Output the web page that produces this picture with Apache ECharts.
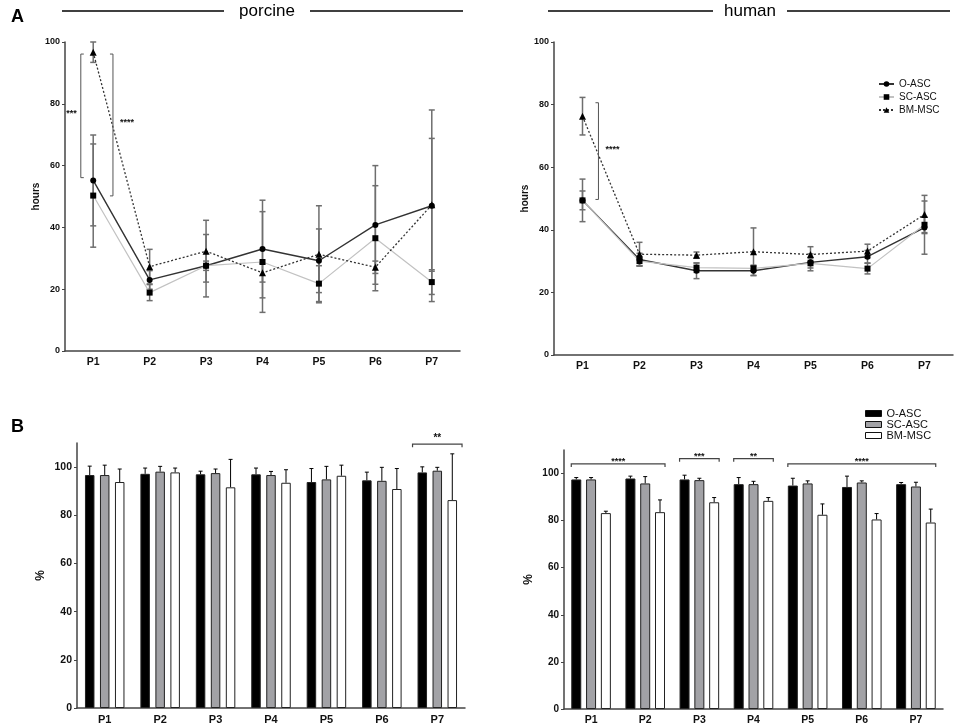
<!DOCTYPE html>
<html>
<head>
    <meta charset='utf-8'/>
    <title>Doubling time and viability</title>
    <style>
        body {
            margin: 0;
            padding: 0;
            background: #fff;
        }

        #chart {
            width: 957px;
            height: 728px;
        }
    </style>
</head>
<body>
<div id='chart'></div>
<script type="text/javascript" src="https://cdn.jsdelivr.net/npm/echarts@6/dist/echarts.min.js"></script>
<script type="text/javascript">
    // passages
    var passages = ['P1', 'P2', 'P3', 'P4', 'P5', 'P6', 'P7'];
    var cellNames = ['O-ASC', 'SC-ASC', 'BM-MSC'];

    // A: doubling time (hours), mean and error
    var porcineO = [55.2, 23.0, 27.6, 33.0, 29.2, 40.8, 47.0];
    var porcineOErr = [14.7, 3.0, 10.1, 15.8, 10.3, 19.2, 31.0];
    var porcineSC = [50.3, 18.9, 27.6, 28.8, 21.8, 36.5, 22.3];
    var porcineSCErr = [16.7, 2.6, 1.5, 16.3, 5.8, 17.0, 4.0];
    var porcineBM = [96.7, 27.3, 32.3, 25.3, 31.3, 27.1, 47.3];
    var porcineBMErr = [3.3, 5.6, 10.0, 3.0, 15.7, 2.0, 21.5];

    var humanO = [49.4, 30.5, 26.9, 26.9, 29.6, 31.4, 40.7];
    var humanOErr = [6.8, 2.0, 2.5, 1.5, 2.7, 2.0, 8.5];
    var humanSC = [49.4, 30.0, 27.9, 27.7, 29.3, 27.6, 41.6];
    var humanSCErr = [3.0, 1.5, 1.5, 1.0, 1.5, 1.7, 2.5];
    var humanBM = [76.3, 32.2, 31.9, 33.0, 32.1, 33.2, 44.9];
    var humanBMErr = [6.0, 3.8, 1.0, 7.6, 2.5, 2.2, 6.1];

    // B: viability (%), mean and error
    var porcineViabO = [96.7, 97.2, 97.0, 97.0, 93.8, 94.5, 97.8];
    var porcineViabOErr = [3.7, 2.4, 1.3, 2.6, 5.6, 3.4, 2.3];
    var porcineViabSC = [96.7, 98.1, 97.5, 96.7, 94.9, 94.3, 98.5];
    var porcineViabSCErr = [4.1, 2.2, 1.7, 1.5, 5.4, 5.6, 1.4];
    var porcineViabBM = [93.8, 97.8, 91.6, 93.5, 96.4, 90.9, 86.3];
    var porcineViabBMErr = [5.4, 1.8, 11.6, 5.4, 4.4, 8.5, 19.2];

    var humanViabO = [97.5, 97.9, 97.5, 95.5, 94.9, 94.3, 95.5];
    var humanViabOErr = [0.8, 1.0, 1.8, 2.8, 3.1, 4.6, 0.7];
    var humanViabSC = [97.5, 95.8, 97.2, 95.5, 95.8, 96.2, 94.5];
    var humanViabSCErr = [0.8, 2.9, 0.8, 1.2, 1.1, 0.7, 1.8];
    var humanViabBM = [83.2, 83.6, 87.8, 88.4, 82.5, 80.5, 79.2];
    var humanViabBMErr = [0.8, 5.2, 2.0, 1.4, 4.6, 2.5, 5.7];

    // significance: [passage, low, high, stars] and [fromPassage, toPassage, height, stars]
    var porcineSig = [[0, 56.1, 96.1, '***'], [0, 50.2, 96.1, '****']];
    var humanSig = [[0, 49.7, 80.6, '****']];
    var porcineViabSig = [[6, 6, 109.5, '**']];
    var humanViabSig = [[0, 1, 104.1, '****'], [2, 2, 106.3, '***'], [3, 3, 106.3, '**'], [4, 6, 104.1, '****']];

    var font = 'Liberation Sans, Arial, sans-serif';
    var axisColor = '#444';

    var lineLooks = [
        {symbol: 'circle', color: '#333', width: 1.4, type: 'solid'},
        {symbol: 'rect', color: '#c2c2c2', width: 1.2, type: 'solid'},
        {symbol: 'triangle', color: '#333', width: 1.3, type: [2, 2]}
    ];
    var barLooks = ['#000', '#a2a2a6', '#fff'];

    function xAxisFor(grid, size) {
        return {
            type: 'category',
            gridIndex: grid,
            data: passages,
            axisLine: {lineStyle: {color: axisColor, width: 1.5}},
            axisTick: {alignWithLabel: true, length: 3, lineStyle: {color: axisColor}},
            axisLabel: {color: '#111', fontWeight: 'bold', fontSize: size, fontFamily: font, margin: 6}
        };
    }

    function yAxisFor(grid, max, name, gap, size, nameSize) {
        var ticks = [0, 20, 40, 60, 80, 100];
        return {
            type: 'value',
            gridIndex: grid,
            min: 0,
            max: max,
            name: name,
            nameLocation: 'middle',
            nameGap: gap,
            nameTextStyle: {color: '#111', fontWeight: 'bold', fontSize: nameSize, fontFamily: font},
            splitLine: {show: false},
            axisLine: {show: true, lineStyle: {color: axisColor, width: 1.5}},
            axisTick: {show: true, length: 3, customValues: ticks, lineStyle: {color: axisColor}},
            axisLabel: {customValues: ticks, color: '#111', fontWeight: 'bold', fontSize: size, fontFamily: font, margin: 5}
        };
    }

    function withErr(vals, errs) {
        return vals.map(function (v, i) {
            return [i, v - errs[i], v + errs[i]];
        });
    }

    function errRender(params, api) {
        var cat = api.value(0);
        var lo = api.coord([cat, api.value(1)]);
        var hi = api.coord([cat, api.value(2)]);
        var s = {stroke: '#6e6e6e', lineWidth: 1.5};
        return {
            type: 'group', children: [
                {type: 'line', shape: {x1: lo[0], y1: lo[1], x2: hi[0], y2: hi[1]}, style: s},
                {type: 'line', shape: {x1: lo[0] - 3, y1: lo[1], x2: lo[0] + 3, y2: lo[1]}, style: s},
                {type: 'line', shape: {x1: hi[0] - 3, y1: hi[1], x2: hi[0] + 3, y2: hi[1]}, style: s}
            ]
        };
    }

    function barErrRender(k, barW, gapW) {
        return function (params, api) {
            var cat = api.value(0);
            var p0 = api.coord([cat, api.value(1)]);
            var p1 = api.coord([cat, api.value(2)]);
            var x = p0[0] + (k - 1) * (barW + gapW);
            var s = {stroke: '#000', lineWidth: 1};
            return {
                type: 'group', children: [
                    {type: 'line', shape: {x1: x, y1: p0[1], x2: x, y2: p1[1]}, style: s},
                    {type: 'line', shape: {x1: x - 2, y1: p1[1], x2: x + 2, y2: p1[1]}, style: s}
                ]
            };
        };
    }

    // vertical bracket beside P1, offset is a fraction of the band
    function sigVertRender(list, offsets) {
        return function (params, api) {
            var i = params.dataIndex;
            var band = api.size([1, 0])[0];
            var lo = api.coord([api.value(0), api.value(1)]);
            var hi = api.coord([api.value(0), api.value(2)]);
            var off = offsets[i];
            var x = lo[0] + off * band;
            var dir = off < 0 ? 1 : -1;
            return {
                type: 'group', children: [
                    {
                        type: 'polyline',
                        shape: {points: [[x + 3 * dir, hi[1]], [x, hi[1]], [x, lo[1]], [x + 3 * dir, lo[1]]]},
                        style: {stroke: '#555', lineWidth: 1, fill: null}
                    },
                    {
                        type: 'text', x: x - dir * (dir > 0 ? 4 : 7), y: (lo[1] + hi[1]) / 2 - 2,
                        style: {
                            text: list[i][3], font: 'bold 9px ' + font, fill: '#111',
                            align: dir > 0 ? 'right' : 'left', verticalAlign: 'middle'
                        }
                    }
                ]
            };
        };
    }

    // horizontal bracket over bar groups
    function sigSpanRender(list, groupHalf, pad, lift, size) {
        return function (params, api) {
            var a = api.coord([api.value(0), api.value(2)]);
            var b = api.coord([api.value(1), api.value(2)]);
            var x1 = a[0] - groupHalf - pad, x2 = b[0] + groupHalf + pad, y = a[1];
            return {
                type: 'group', children: [
                    {
                        type: 'polyline',
                        shape: {points: [[x1, y + 3], [x1, y], [x2, y], [x2, y + 3]]},
                        style: {stroke: '#444', lineWidth: 1.2, fill: null}
                    },
                    {
                        type: 'text', x: (x1 + x2) / 2, y: y - lift,
                        style: {
                            text: list[params.dataIndex][3], font: 'bold ' + size + 'px ' + font, fill: '#111',
                            align: 'center', verticalAlign: 'bottom'
                        }
                    }
                ]
            };
        };
    }

    var series = [];

    function addLines(axis, vals, errs, sig, offsets) {
        for (var k = 0; k < 3; k++) {
            series.push({
                type: 'custom',
                xAxisIndex: axis, yAxisIndex: axis,
                renderItem: errRender,
                encode: {x: 0, y: [1, 2]},
                data: withErr(vals[k], errs[k]),
                silent: true,
                z: 1
            });
        }
        for (var j = 0; j < 3; j++) {
            var look = lineLooks[j];
            series.push({
                name: cellNames[j],
                type: 'line',
                xAxisIndex: axis, yAxisIndex: axis,
                data: vals[j],
                symbol: look.symbol,
                symbolSize: j === 2 ? 7 : 6,
                itemStyle: {color: '#000'},
                lineStyle: {color: look.color, width: look.width, type: look.type},
                z: 3
            });
        }
        series.push({
            type: 'custom',
            xAxisIndex: axis, yAxisIndex: axis,
            renderItem: sigVertRender(sig, offsets),
            encode: {x: 0, y: [1, 2]},
            data: sig.map(function (d) { return [d[0], d[1], d[2]]; }),
            clip: false,
            silent: true,
            z: 4
        });
    }

    function addBars(axis, vals, errs, sig, barW, gapW, pad, lift, size) {
        for (var k = 0; k < 3; k++) {
            series.push({
                name: cellNames[k],
                type: 'bar',
                xAxisIndex: axis, yAxisIndex: axis,
                data: vals[k],
                barWidth: barW,
                barGap: (gapW / barW * 100) + '%',
                itemStyle: {color: barLooks[k], borderColor: '#222', borderWidth: 1},
                z: 2
            });
            series.push({
                type: 'custom',
                xAxisIndex: axis, yAxisIndex: axis,
                renderItem: barErrRender(k, barW, gapW),
                encode: {x: 0, y: [1, 2]},
                data: vals[k].map(function (v, i) { return [i, v, v + errs[k][i]]; }),
                clip: false,
                silent: true,
                z: 1
            });
        }
        series.push({
            type: 'custom',
            xAxisIndex: axis, yAxisIndex: axis,
            renderItem: sigSpanRender(sig, 1.5 * barW + gapW, pad, lift, size),
            encode: {x: [0, 1], y: 2},
            data: sig.map(function (d) { return [d[0], d[1], d[2]]; }),
            clip: false,
            silent: true,
            z: 4
        });
    }

    addLines(0, [porcineO, porcineSC, porcineBM], [porcineOErr, porcineSCErr, porcineBMErr], porcineSig, [-0.22, 0.35]);
    addLines(1, [humanO, humanSC, humanBM], [humanOErr, humanSCErr, humanBMErr], humanSig, [0.28]);
    addBars(2, [porcineViabO, porcineViabSC, porcineViabBM], [porcineViabOErr, porcineViabSCErr, porcineViabBMErr],
        porcineViabSig, 9.5, 5.5, 5, 1, 10);
    addBars(3, [humanViabO, humanViabSC, humanViabBM], [humanViabOErr, humanViabSCErr, humanViabBMErr],
        humanViabSig, 10, 4.8, 0, -2, 9);

    function header(text, cx, x1, x2, halfGap) {
        return [
            {type: 'line', shape: {x1: x1, y1: 11, x2: cx - halfGap, y2: 11}, style: {stroke: '#000', lineWidth: 1.5}},
            {type: 'line', shape: {x1: cx + halfGap, y1: 11, x2: x2, y2: 11}, style: {stroke: '#000', lineWidth: 1.5}},
            {
                type: 'text', x: cx, y: 11,
                style: {text: text, font: '17px ' + font, fill: '#000', align: 'center', verticalAlign: 'middle'}
            }
        ];
    }

    var chart = echarts.init(document.getElementById('chart'), null, {renderer: 'canvas'});
    chart.setOption({
        backgroundColor: '#fff',
        animation: false,
        textStyle: {fontFamily: font},
        grid: [
            {left: 65, top: 42, width: 395, height: 309},
            {left: 554, top: 42, width: 399, height: 313},
            {left: 77, top: 443, width: 388, height: 265},
            {left: 564, top: 450, width: 379, height: 259}
        ],
        xAxis: [xAxisFor(0, 10.5), xAxisFor(1, 10.5), xAxisFor(2, 11), xAxisFor(3, 10.5)],
        yAxis: [
            yAxisFor(0, 100, 'hours', 22, 9, 10),
            yAxisFor(1, 100, 'hours', 23, 9, 10),
            yAxisFor(2, 110, '%', 30, 10.5, 12),
            yAxisFor(3, 110, '%', 29, 10, 12)
        ],
        legend: [
            {
                left: 873, top: 74,
                orient: 'vertical',
                itemWidth: 15, itemHeight: 7, itemGap: 3,
                selectedMode: false,
                textStyle: {fontSize: 10, color: '#111', fontFamily: font},
                data: cellNames
            },
            {
                left: 860, top: 403,
                orient: 'vertical',
                itemWidth: 16, itemHeight: 6, itemGap: 0,
                selectedMode: false,
                textStyle: {fontSize: 11, color: '#111', fontFamily: font},
                data: cellNames.map(function (n, k) {
                    return {name: n, icon: 'rect', itemStyle: {color: barLooks[k], borderColor: '#111', borderWidth: 1}};
                })
            }
        ],
        graphic: [].concat(
            header('porcine', 267, 62, 463, 43),
            header('human', 750, 548, 950, 37),
            [
                {type: 'text', left: 11, top: 8, style: {text: 'A', font: 'bold 18px ' + font, fill: '#000'}},
                {type: 'text', left: 11, top: 418, style: {text: 'B', font: 'bold 18px ' + font, fill: '#000'}}
            ]
        ),
        series: series
    });
</script>
</body>
</html>
